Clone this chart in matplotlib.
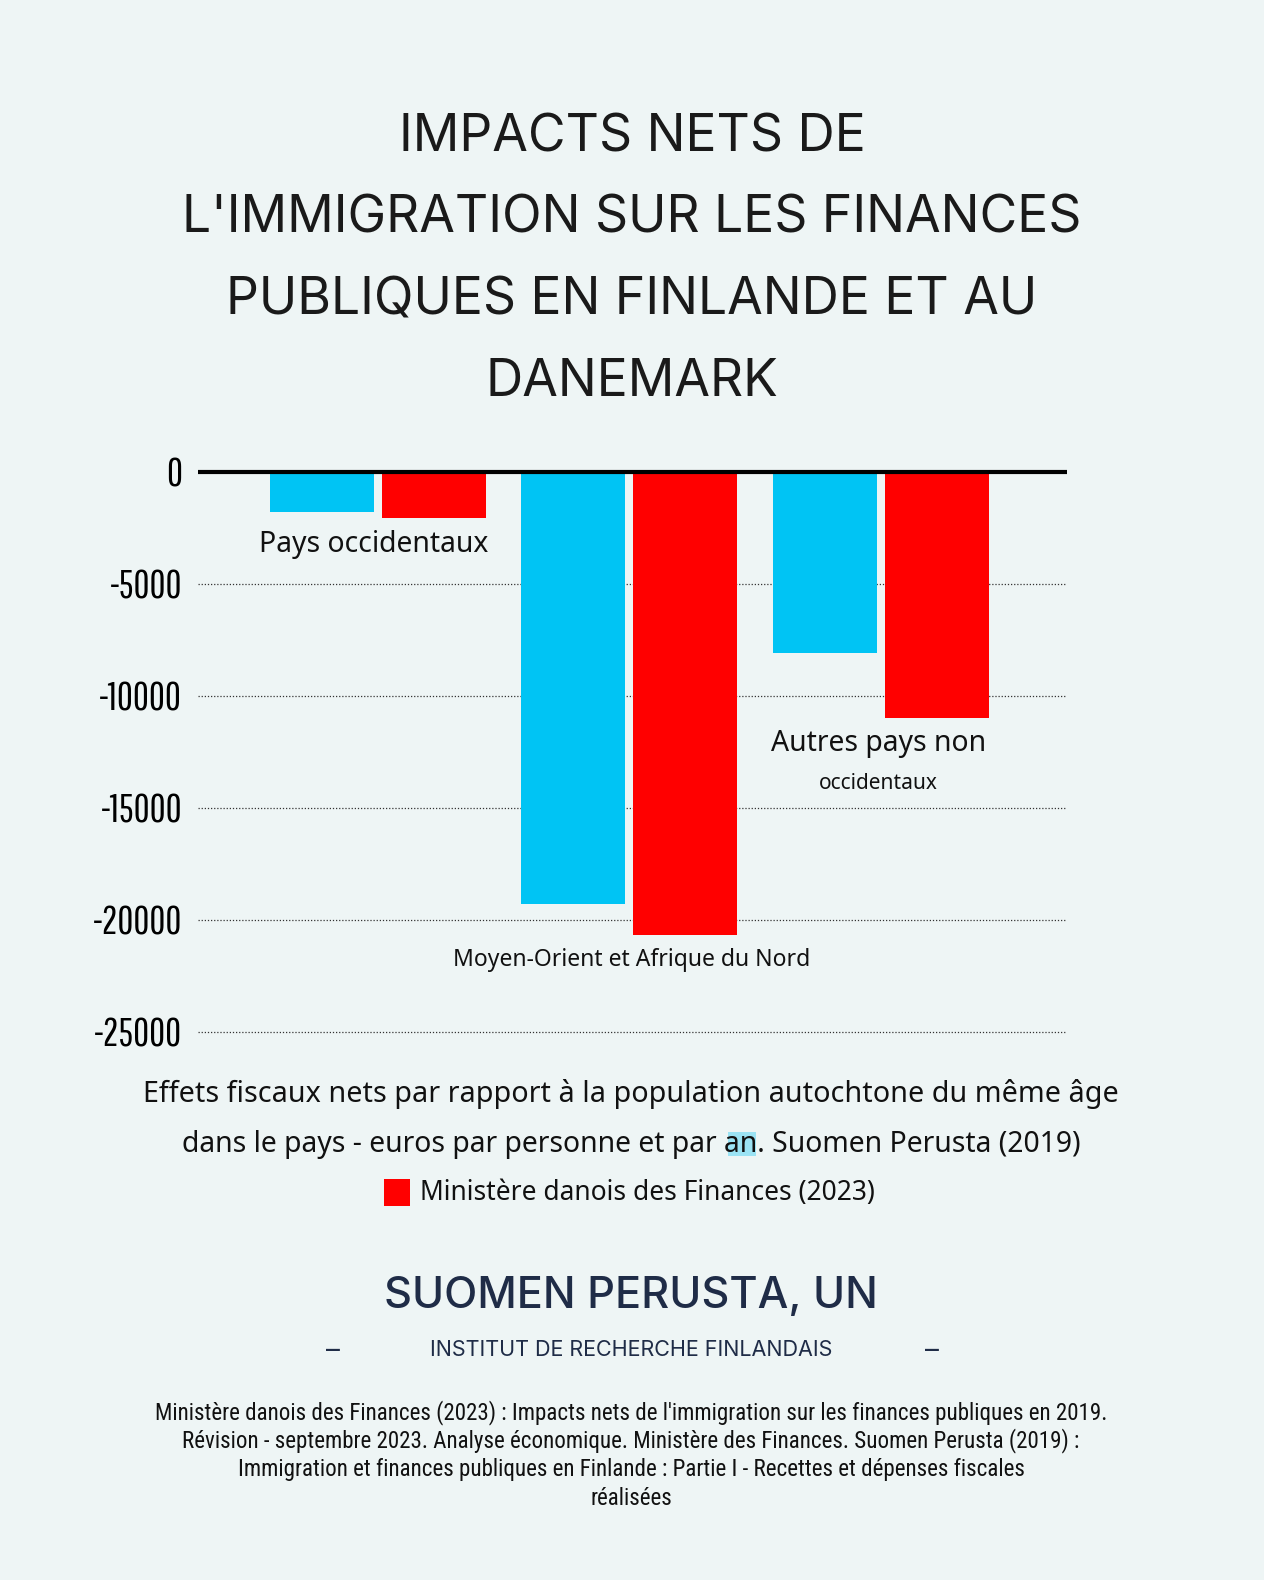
import numpy as np
import matplotlib
matplotlib.use("Agg")
from matplotlib import pyplot as plt
from matplotlib.patches import Rectangle

# data
groups = ["Pays occidentaux", "Moyen-Orient et Afrique du Nord", "Autres pays non occidentaux"]
finland_2019 = [-1800, -19300, -8100]
denmark_2023 = [-2050, -20650, -11000]
yticks = [0, -5000, -10000, -15000, -20000, -25000]

bg = "#eef5f5"
blue = "#00c4f4"
red = "#ff0000"
tick_font = ["Pathway Gothic One", "Fira Sans Extra Condensed", "DejaVu Sans"]
narrow = ["Roboto Condensed", "DejaVu Sans"]
title_font = ["Inter", "DejaVu Sans"]
body_font = ["Noto Sans", "DejaVu Sans"]

W, H = 1264, 1580
S = 1264 / 1254
fig = plt.figure(figsize=(W / 100, H / 100), dpi=100, facecolor=bg)

def fx(px):
    return px * S / W

def fy(py):
    return 1 - py * S / H

# title
title_lines = ["IMPACTS NETS DE", "L'IMMIGRATION SUR LES FINANCES",
               "PUBLIQUES EN FINLANDE ET AU", "DANEMARK"]
for i, line in enumerate(title_lines):
    fig.text(fx(627), fy(137 + i * 80.7), line, ha="center", va="center",
             fontsize=37.2, family=title_font, color="#1a1a1a")

# chart axes (pixel box of the plotting area)
ax = fig.add_axes([198 / W, 1 - 1042 / H, (1067 - 198) / W, (1042 - 462) / H])
ax.set_facecolor(bg)
x = np.arange(len(groups))
w = 0.4135
ax.bar(x - 0.2227, finland_2019, width=w, color=blue, zorder=2)
ax.bar(x + 0.2227, denmark_2023, width=w, color=red, zorder=2)
ax.axhline(0, color="black", lw=3, zorder=3)
for t in yticks[1:]:
    ax.axhline(t, color="#333333", lw=0.9, ls=(0, (1, 1.5)), zorder=1)
ax.set_xlim(-0.716, 2.74)
ax.set_ylim(-25450, 450)
ax.set_yticks(yticks)
ax.set_yticklabels([str(t) for t in yticks], family=tick_font, fontsize=28)
ax.tick_params(axis="y", length=0, pad=11.5)
ax.set_xticks([])
for s in ax.spines.values():
    s.set_visible(False)

# group labels
ax.text(-0.016, -3230, "Pays occidentaux", ha="center", va="center", fontsize=20.4,
        family=body_font, color="#111111")
ax.text(1.01, -21810, "Moyen-Orient et Afrique du Nord", ha="center", va="center",
        fontsize=16.5, family=body_font, color="#111111")
ax.text(1.99, -12140, "Autres pays non", ha="center", va="center", fontsize=20.4,
        family=body_font, color="#111111")
ax.text(1.99, -13890, "occidentaux", ha="center", va="center", fontsize=15,
        family=body_font, color="#111111")

# caption / legend
fig.text(fx(626), fy(1085), "Effets fiscaux nets par rapport à la population autochtone du même âge",
         ha="center", va="center", fontsize=20.7, family=body_font, color="#111111")
fig.patches.append(Rectangle((fx(722), fy(1147)), 28 * S / W, 24 * S / H, transform=fig.transFigure,
                             facecolor=blue, alpha=0.35, edgecolor="none"))
fig.text(fx(626), fy(1135), "dans le pays - euros par personne et par an. Suomen Perusta (2019)",
         ha="center", va="center", fontsize=20.4, family=body_font, color="#111111")
fig.patches.append(Rectangle((fx(381), fy(1196)), 26 * S / W, 26 * S / H, transform=fig.transFigure,
                             facecolor=red, edgecolor="none"))
fig.text(fx(417), fy(1184), "Ministère danois des Finances (2023)", ha="left", va="center",
         fontsize=19, family=body_font, color="#111111")

# branding
navy = "#1f2c47"
fig.text(fx(626), fy(1286), "SUOMEN PERUSTA, UN", ha="center", va="center",
         fontsize=31.2, family=title_font, weight=500, color=navy)
fig.text(fx(626), fy(1339), "INSTITUT DE RECHERCHE FINLANDAIS", ha="center", va="center",
         fontsize=15.5, family=title_font, color=navy)
fig.text(fx(330), fy(1340), "–", ha="center", va="center", fontsize=20, family=title_font, color=navy)
fig.text(fx(925), fy(1340), "–", ha="center", va="center", fontsize=20, family=title_font, color=navy)

# sources
sources = [
    "Ministère danois des Finances (2023) : Impacts nets de l'immigration sur les finances publiques en 2019.",
    "Révision - septembre 2023. Analyse économique. Ministère des Finances. Suomen Perusta (2019) :",
    "Immigration et finances publiques en Finlande : Partie I - Recettes et dépenses fiscales",
    "réalisées",
]
for i, line in enumerate(sources):
    fig.text(fx(626), fy(1401 + i * 28.5), line, ha="center", va="center",
             fontsize=16.6, family=narrow, color="#111111")

fig.savefig("out.png", dpi=100, facecolor=bg)
